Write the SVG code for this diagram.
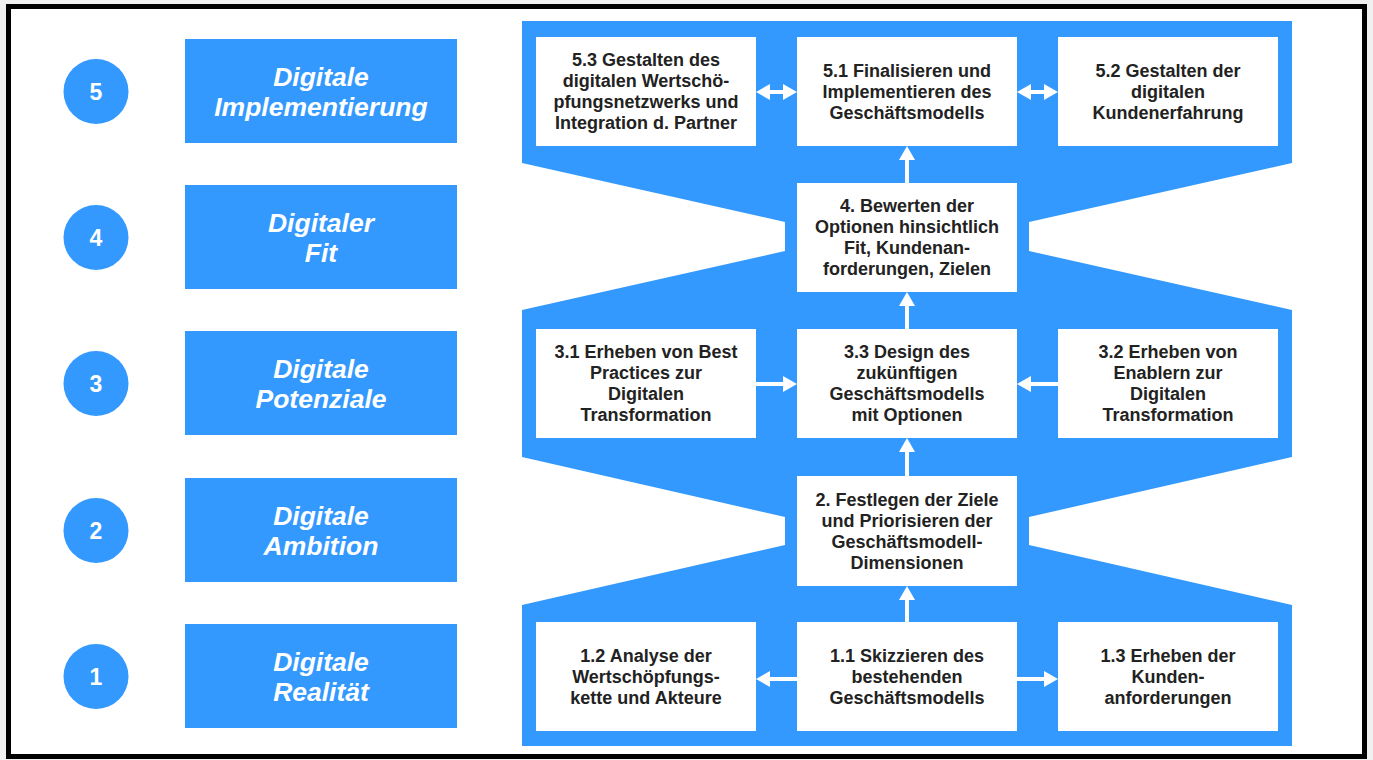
<svg xmlns="http://www.w3.org/2000/svg" width="1373" height="760" viewBox="0 0 1373 760">
<style>
.bg{fill:#f0f0f0}
.frame{fill:#ffffff;stroke:#000000;stroke-width:5}
.blue{fill:#3399FF}
.circ{fill:#3399FF}
.num{font-family:"Liberation Sans",Arial,sans-serif;font-weight:bold;font-size:23px;fill:#ffffff;text-anchor:middle}
.lbl{font-family:"Liberation Sans",Arial,sans-serif;font-weight:bold;font-style:italic;font-size:26.5px;fill:#ffffff;text-anchor:middle}
.box{fill:#ffffff}
.txt{font-family:"Liberation Sans",Arial,sans-serif;font-weight:bold;font-size:18px;fill:#222222;text-anchor:middle}
.con{stroke:#ffffff;stroke-width:4;fill:none}
</style>
<defs>
<marker id="ah" viewBox="0 0 14 16" refX="4" refY="8" markerWidth="14" markerHeight="16" markerUnits="userSpaceOnUse" orient="auto-start-reverse">
<path d="M0,0 L14,8 L0,16 Z" fill="#ffffff"/>
</marker>
</defs>
<rect class="bg" x="0" y="0" width="1373" height="760"/>
<rect class="frame" x="8.5" y="6.5" width="1356" height="750"/>

<g id="phase-background">
<path class="blue" d="M522,21 H1292 V163 L1029,222 V251 L1292,310 V457 L1029,517 V545 L1292,605 V746 H522 V605 L785,545 V517 L522,457 V310 L785,251 V222 L522,163 Z"/>
</g>

<g id="step5">
<circle class="circ" cx="96" cy="91.5" r="32.5"/>
<text class="num" x="96" y="99.5">5</text>
<rect class="blue" x="185" y="39" width="272" height="104"/>
<text class="lbl" x="321" y="85.5">Digitale<tspan x="321" dy="30">Implementierung</tspan></text>
</g>
<g id="step4">
<circle class="circ" cx="96" cy="237.5" r="32.5"/>
<text class="num" x="96" y="245.5">4</text>
<rect class="blue" x="185" y="185" width="272" height="104"/>
<text class="lbl" x="321" y="231.5">Digitaler<tspan x="321" dy="30">Fit</tspan></text>
</g>
<g id="step3">
<circle class="circ" cx="96" cy="383.5" r="32.5"/>
<text class="num" x="96" y="391.5">3</text>
<rect class="blue" x="185" y="331" width="272" height="104"/>
<text class="lbl" x="321" y="377.5">Digitale<tspan x="321" dy="30">Potenziale</tspan></text>
</g>
<g id="step2">
<circle class="circ" cx="96" cy="530.5" r="32.5"/>
<text class="num" x="96" y="538.5">2</text>
<rect class="blue" x="185" y="478" width="272" height="104"/>
<text class="lbl" x="321" y="524.5">Digitale<tspan x="321" dy="30">Ambition</tspan></text>
</g>
<g id="step1">
<circle class="circ" cx="96" cy="676.5" r="32.5"/>
<text class="num" x="96" y="684.5">1</text>
<rect class="blue" x="185" y="624" width="272" height="104"/>
<text class="lbl" x="321" y="670.5">Digitale<tspan x="321" dy="30">Realität</tspan></text>
</g>

<g id="n53">
<rect class="box" x="536" y="37" width="220" height="109"/>
<text class="txt" x="646" y="66.4">5.3 Gestalten des<tspan x="646" dy="21">digitalen Wertschö-</tspan><tspan x="646" dy="21">pfungsnetzwerks und</tspan><tspan x="646" dy="21">Integration d. Partner</tspan></text>
</g>
<g id="n51">
<rect class="box" x="797" y="37" width="220" height="109"/>
<text class="txt" x="907" y="76.9">5.1 Finalisieren und<tspan x="907" dy="21">Implementieren des</tspan><tspan x="907" dy="21">Geschäftsmodells</tspan></text>
</g>
<g id="n52">
<rect class="box" x="1058" y="37" width="220" height="109"/>
<text class="txt" x="1168" y="76.9">5.2 Gestalten der<tspan x="1168" dy="21">digitalen</tspan><tspan x="1168" dy="21">Kundenerfahrung</tspan></text>
</g>
<g id="n4">
<rect class="box" x="797" y="183" width="220" height="109"/>
<text class="txt" x="907" y="212.4">4. Bewerten der<tspan x="907" dy="21">Optionen hinsichtlich</tspan><tspan x="907" dy="21">Fit, Kundenan-</tspan><tspan x="907" dy="21">forderungen, Zielen</tspan></text>
</g>
<g id="n31">
<rect class="box" x="536" y="329" width="220" height="109"/>
<text class="txt" x="646" y="358.4">3.1 Erheben von Best<tspan x="646" dy="21">Practices zur</tspan><tspan x="646" dy="21">Digitalen</tspan><tspan x="646" dy="21">Transformation</tspan></text>
</g>
<g id="n33">
<rect class="box" x="797" y="329" width="220" height="109"/>
<text class="txt" x="907" y="358.4">3.3 Design des<tspan x="907" dy="21">zukünftigen</tspan><tspan x="907" dy="21">Geschäftsmodells</tspan><tspan x="907" dy="21">mit Optionen</tspan></text>
</g>
<g id="n32">
<rect class="box" x="1058" y="329" width="220" height="109"/>
<text class="txt" x="1168" y="358.4">3.2 Erheben von<tspan x="1168" dy="21">Enablern zur</tspan><tspan x="1168" dy="21">Digitalen</tspan><tspan x="1168" dy="21">Transformation</tspan></text>
</g>
<g id="n2">
<rect class="box" x="797" y="476" width="220" height="110"/>
<text class="txt" x="907" y="505.9">2. Festlegen der Ziele<tspan x="907" dy="21">und Priorisieren der</tspan><tspan x="907" dy="21">Geschäftsmodell-</tspan><tspan x="907" dy="21">Dimensionen</tspan></text>
</g>
<g id="n12">
<rect class="box" x="536" y="622" width="220" height="109"/>
<text class="txt" x="646" y="661.9">1.2 Analyse der<tspan x="646" dy="21">Wertschöpfungs-</tspan><tspan x="646" dy="21">kette und Akteure</tspan></text>
</g>
<g id="n11">
<rect class="box" x="797" y="622" width="220" height="109"/>
<text class="txt" x="907" y="661.9">1.1 Skizzieren des<tspan x="907" dy="21">bestehenden</tspan><tspan x="907" dy="21">Geschäftsmodells</tspan></text>
</g>
<g id="n13">
<rect class="box" x="1058" y="622" width="220" height="109"/>
<text class="txt" x="1168" y="661.9">1.3 Erheben der<tspan x="1168" dy="21">Kunden-</tspan><tspan x="1168" dy="21">anforderungen</tspan></text>
</g>

<g id="connectors">
<line class="con" x1="766" y1="92" x2="787" y2="92" marker-start="url(#ah)" marker-end="url(#ah)"/>
<line class="con" x1="1027" y1="92" x2="1048" y2="92" marker-start="url(#ah)" marker-end="url(#ah)"/>
<line class="con" x1="907" y1="183" x2="907" y2="156" marker-end="url(#ah)"/>
<line class="con" x1="907" y1="329" x2="907" y2="302" marker-end="url(#ah)"/>
<line class="con" x1="907" y1="476" x2="907" y2="448" marker-end="url(#ah)"/>
<line class="con" x1="907" y1="622" x2="907" y2="596" marker-end="url(#ah)"/>
<line class="con" x1="756" y1="384" x2="787" y2="384" marker-end="url(#ah)"/>
<line class="con" x1="1058" y1="384" x2="1027" y2="384" marker-end="url(#ah)"/>
<line class="con" x1="797" y1="679" x2="766" y2="679" marker-end="url(#ah)"/>
<line class="con" x1="1017" y1="679" x2="1048" y2="679" marker-end="url(#ah)"/>
</g>
</svg>
